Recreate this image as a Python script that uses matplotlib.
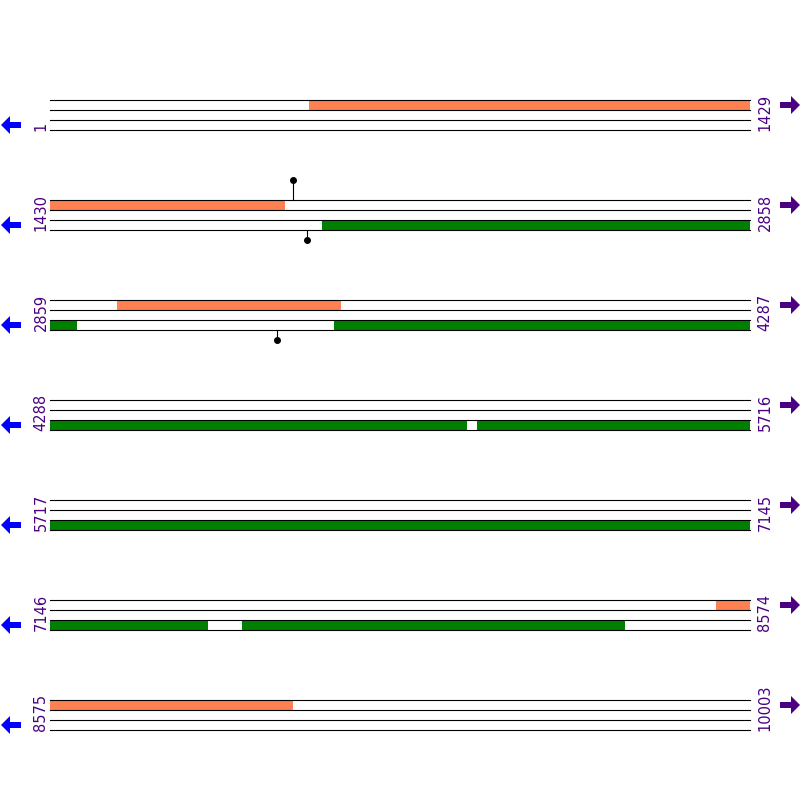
import matplotlib
matplotlib.use("Agg")
import matplotlib.pyplot as plt
from matplotlib.patches import Rectangle, Polygon

total = 10003
row_len = 1429
# features (start, end) in bp
top_features = [(530, 1908), (2996, 3453), (8506, 9071)]      # orange, forward strand
bottom_features = [(1985, 2914), (3439, 5139), (5160, 7468), (7538, 8318)]  # green, reverse strand
top_sites = [1926]
bottom_sites = [1955, 3322]

fig = plt.figure(figsize=(8, 8), dpi=100)
ax = fig.add_axes([0, 0, 1, 1])
ax.set_xlim(0, 800); ax.set_ylim(800, 0); ax.axis("off")

X0, X1 = 50, 750
nrows = 7
def bx(p, r):
    s = 1 + r * row_len
    return X0 + (p - s) / (row_len) * (X1 - X0)

for r in range(nrows):
    y0 = 100 + r * 100
    s = 1 + r * row_len
    e = min(s + row_len - 1, total)
    xe = bx(e + 1, r)
    for (a, b), col, yb in [(f, "#FF8050", y0) for f in top_features] + [(f, "#008000", y0 + 20) for f in bottom_features]:
        lo, hi = max(a, s), min(b, e)
        if lo <= hi:
            ax.add_patch(Rectangle((bx(lo, r), yb), bx(hi + 1, r) - bx(lo, r), 10, color=col, lw=0))
    for yy in (y0, y0 + 10, y0 + 20, y0 + 30):
        ax.plot([X0, xe], [yy, yy], color="black", lw=0.8)
    for p in top_sites:
        if s <= p <= e:
            x = bx(p, r); ax.plot([x, x], [y0, y0 - 20], color="black", lw=0.8)
            ax.plot(x, y0 - 20, "o", color="black", ms=4)
    for p in bottom_sites:
        if s <= p <= e:
            x = bx(p, r); ax.plot([x, x], [y0 + 30, y0 + 40], color="black", lw=0.8)
            ax.plot(x, y0 + 40, "o", color="black", ms=4)
    ax.text(41, y0 + 31, str(s), rotation=90, ha="center", va="bottom", color="#4B0082", fontsize=10.5)
    ax.text(765, y0 + 31, str(e), rotation=90, ha="center", va="bottom", color="#4B0082", fontsize=10.5)
    # arrows
    yc = y0 + 25
    ax.add_patch(Polygon([(1, yc), (10, yc - 9), (10, yc - 3), (21, yc - 3), (21, yc + 3), (10, yc + 3), (10, yc + 9)], color="blue", lw=0))
    yc = y0 + 5
    ax.add_patch(Polygon([(800, yc), (791, yc - 9), (791, yc - 3), (780, yc - 3), (780, yc + 3), (791, yc + 3), (791, yc + 9)], color="#4B0082", lw=0))

fig.savefig("out.png", dpi=100)
